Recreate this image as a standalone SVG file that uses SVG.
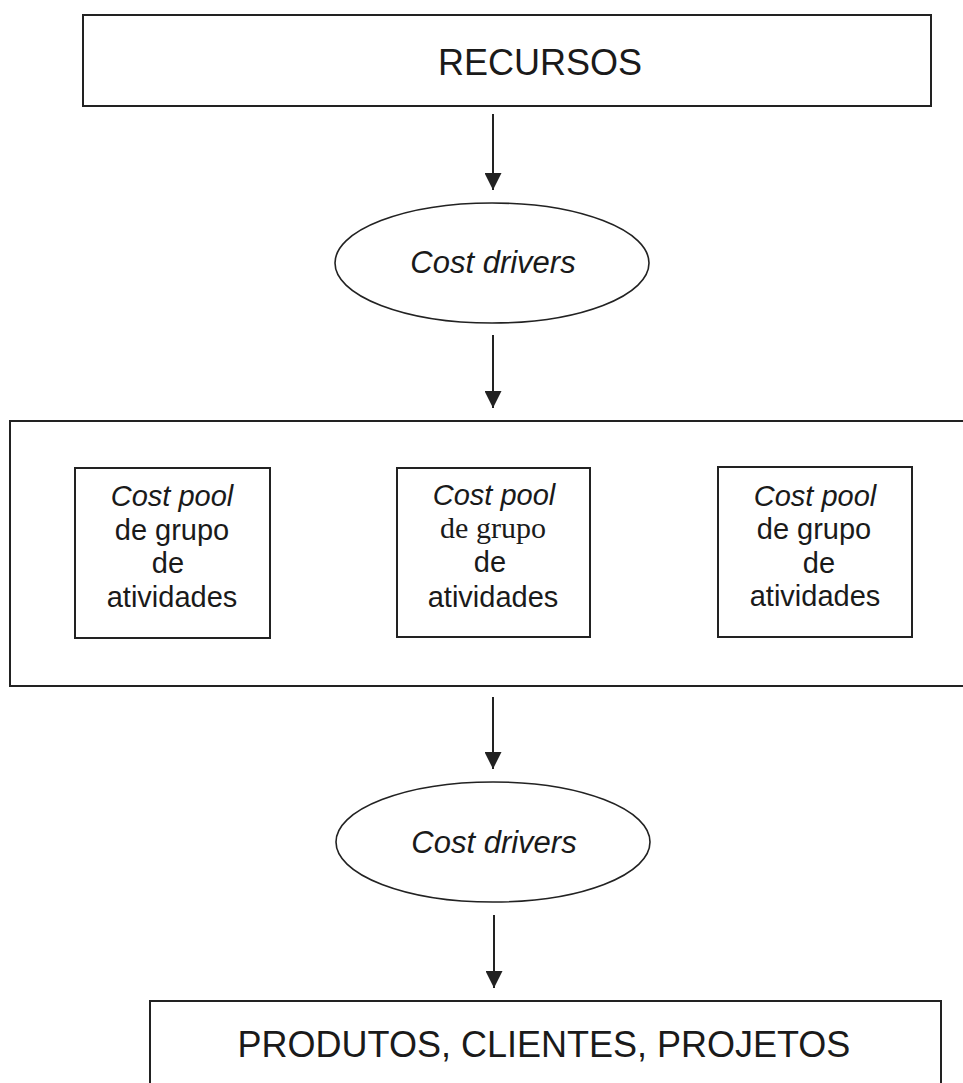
<svg xmlns="http://www.w3.org/2000/svg" width="963" height="1083" viewBox="0 0 963 1083">
<defs>
<style>
.box{fill:#fff;stroke:#222;stroke-width:2}
.ell{fill:#fff;stroke:#222;stroke-width:1.6}
.t{font-family:"Liberation Sans",Arial,sans-serif;fill:#1a1a1a;text-anchor:middle}
.ts{font-family:"Liberation Serif","Times New Roman",serif;fill:#1a1a1a;text-anchor:middle}
.it{font-style:italic}
.conn line{stroke:#222;stroke-width:2}
</style>
<marker id="ah" viewBox="0 0 16 16" refX="16" refY="8" markerWidth="17" markerHeight="17" markerUnits="userSpaceOnUse" orient="auto">
<path d="M0,0 L16,8 L0,16 z" fill="#222"/>
</marker>
</defs>
<rect width="963" height="1083" fill="#fff"/>
<g id="recursos">
<rect class="box" x="83" y="15" width="848" height="91"/>
<text class="t" x="540" y="75" font-size="36">RECURSOS</text>
</g>
<g id="drivers1">
<ellipse class="ell" cx="492" cy="263" rx="157" ry="60"/>
<text class="t it" x="493" y="273" font-size="31">Cost drivers</text>
</g>
<g id="atividades">
<rect class="box" x="10" y="421" width="965" height="265"/>
</g>
<g id="pool1">
<rect class="box" x="75" y="468" width="195" height="170"/>
<text class="t" font-size="29"><tspan class="it" x="172" y="506">Cost pool</tspan><tspan x="172" y="540">de grupo</tspan><tspan x="168" y="573">de</tspan><tspan x="172" y="607">atividades</tspan></text>
</g>
<g id="pool2">
<rect class="box" x="397" y="468" width="193" height="169"/>
<text class="t" font-size="29"><tspan class="it" x="494" y="505">Cost pool</tspan></text>
<text class="ts" font-size="30" x="493" y="538">de grupo</text>
<text class="t" font-size="29"><tspan x="490" y="572">de</tspan><tspan x="493" y="607">atividades</tspan></text>
</g>
<g id="pool3">
<rect class="box" x="718" y="467" width="194" height="170"/>
<text class="t" font-size="29"><tspan class="it" x="815" y="506">Cost pool</tspan><tspan x="814" y="539">de grupo</tspan><tspan x="819" y="573">de</tspan><tspan x="815" y="606">atividades</tspan></text>
</g>
<g id="drivers2">
<ellipse class="ell" cx="493" cy="842" rx="157" ry="60"/>
<text class="t it" x="494" y="853" font-size="31">Cost drivers</text>
</g>
<g id="produtos">
<rect class="box" x="150" y="1001" width="791" height="100"/>
<text class="t" x="544" y="1057" font-size="36">PRODUTOS, CLIENTES, PROJETOS</text>
</g>
<g id="connectors" class="conn">
<line x1="493" y1="114" x2="493" y2="190" marker-end="url(#ah)"/>
<line x1="493" y1="335" x2="493" y2="408" marker-end="url(#ah)"/>
<line x1="493" y1="697" x2="493" y2="769" marker-end="url(#ah)"/>
<line x1="494" y1="915" x2="494" y2="988" marker-end="url(#ah)"/>
</g>
</svg>
